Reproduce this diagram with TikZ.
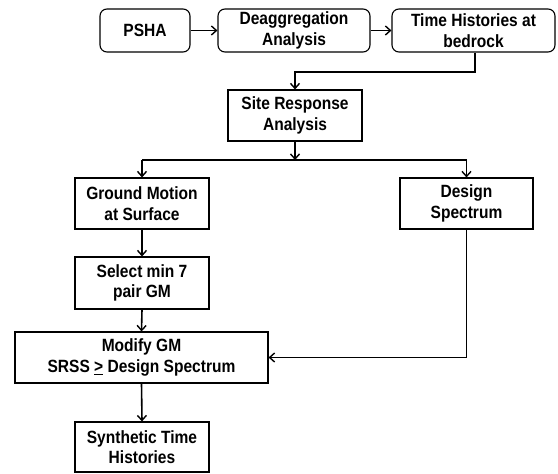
\documentclass[tikz,border=0pt]{standalone}
\usepackage{fontspec}
\usepackage{graphicx}
\setmainfont{Liberation Sans}
\usetikzlibrary{arrows.meta}
% box lettering is a little taller than the plain face
\newcommand{\tall}[1]{\scalebox{1}[1.14]{#1}}
\begin{document}
\begin{tikzpicture}[x=1bp,y=-1bp,
  box/.style={draw,line width=1.1bp,inner sep=0pt,align=center,
    font=\fontsize{15.6}{20.5}\selectfont\bfseries},
  rbox/.style={box,rounded corners=7bp},
  link/.style={line width=1.6bp},
  arr/.style={link,-{Straight Barb[length=5bp,width=9bp,line width=1.4bp]}}]
\useasboundingbox (0,0) rectangle (558,474);
% top row
\node[rbox,minimum width=90bp,minimum height=43bp] (psha) at (145,30.5) {\tall{PSHA}};
\node[rbox,minimum width=152bp,minimum height=43bp] (deag) at (294,30.5) {\tall{Deaggregation}\\\tall{Analysis}};
\node[rbox,minimum width=163bp,minimum height=43bp] (th) at (473.5,30.5) {\tall{Time Histories at}\\\tall{bedrock}};
% middle
\node[box,minimum width=134bp,minimum height=51bp] (site) at (295,115.5) {\tall{Site Response}\\\tall{Analysis}};
\node[box,minimum width=134bp,minimum height=51bp] (gm) at (142,203.5) {\tall{Ground Motion}\\\tall{at Surface}};
\node[box,minimum width=133bp,minimum height=51bp] (ds) at (466.5,203.5) {\tall{Design}\\\tall{Spectrum}};
\node[box,minimum width=134bp,minimum height=52bp] (sel) at (142,283) {\tall{Select min 7}\\\tall{pair GM}};
\node[box,minimum width=253bp,minimum height=51bp] (mod) at (141.5,357.5) {\tall{Modify GM}\\\tall{SRSS \underline{>} Design Spectrum}};
\node[box,minimum width=134bp,minimum height=50bp] (syn) at (142,447) {\tall{Synthetic Time}\\\tall{Histories}};
% junction points
\coordinate (j1) at (475,72);
\coordinate (j2) at (295,160);
% connectors
\draw[arr] (psha.east) -- (deag.west);
\draw[arr] (deag.east) -- (th.west);
\draw[arr] (th.south -| j1) -- (j1) -| (site.north);
\draw[arr] (site.south) -- (j2);
\draw[link] (gm.north |- j2) -- (ds.north |- j2);
\draw[arr] (gm.north |- j2) -- (gm.north);
\draw[arr] (ds.north |- j2) -- (ds.north);
\draw[arr] (gm.south) -- (sel.north);
\draw[arr] (sel.south) -- (mod.north);
\draw[arr] (mod.south) -- (syn.north);
\draw[arr] (ds.south) |- (mod.east);
\end{tikzpicture}
\end{document}
